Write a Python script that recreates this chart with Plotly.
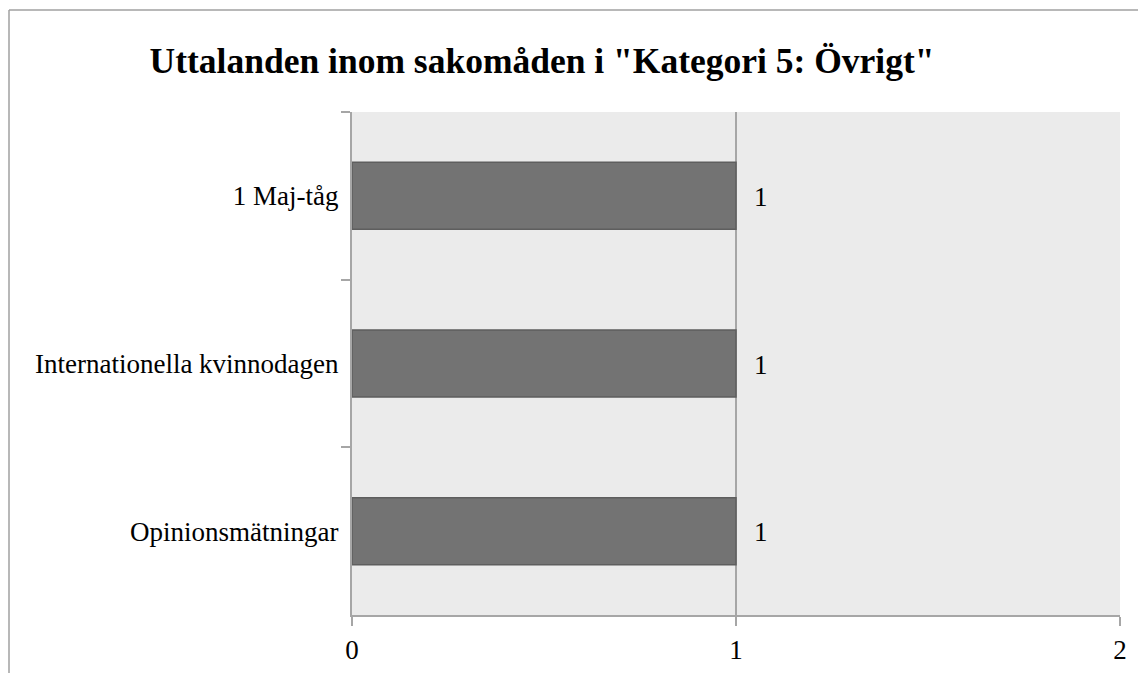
import plotly.graph_objects as go

categories = ["1 Maj-tåg", "Internationella kvinnodagen", "Opinionsmätningar"]
values = [1, 1, 1]
x_ticks = [0, 1, 2]
title = 'Uttalanden inom sakomåden i "Kategori 5: Övrigt"'

FONT = "Liberation Serif, Times New Roman, serif"
OFF = 8  # page body margin
W, H = 1146 - OFF, 673 - OFF
L, R, T, B = 352 - OFF, 26, 112 - OFF, 58
PW, PH = W - L - R, H - T - B


def px_x(p):
    return (p - OFF - L) / PW


def px_y(p):
    return (H - B - (p - OFF)) / PH


fig = go.Figure()
fig.add_trace(go.Bar(
    x=values, y=categories, orientation="h", width=0.4,
    marker=dict(color="#737373", line=dict(color="#5e5e5e", width=1.5)),
    hoverinfo="x+y", showlegend=False,
))

for c, v in zip(categories, values):
    fig.add_annotation(x=v, y=c, text=str(v), showarrow=False,
                       xanchor="left", xshift=16, yshift=-1,
                       font=dict(family=FONT, size=27, color="#000"))

# outer chart frame (left and top edges)
fig.add_shape(type="line", xref="paper", yref="paper",
              x0=px_x(9), x1=px_x(1200), y0=px_y(10), y1=px_y(10),
              line=dict(color="#a0a0a0", width=1.5))
fig.add_shape(type="line", xref="paper", yref="paper",
              x0=px_x(9), x1=px_x(9), y0=px_y(10), y1=px_y(720),
              line=dict(color="#a0a0a0", width=1.5))

fig.update_layout(
    width=W, height=H, autosize=False,
    margin=dict(l=L, r=R, t=T, b=B, pad=0),
    paper_bgcolor="white", plot_bgcolor="#ebebeb",
    title=dict(text=f"<b>{title}</b>", x=(542 - OFF) / W, xanchor="center",
               y=1 - (61 - OFF) / H, yanchor="middle",
               font=dict(family=FONT, size=35.5, color="#000")),
    bargap=0.6,
    font=dict(family=FONT, size=27, color="#000"),
)
fig.update_xaxes(range=[0, 2], tickvals=x_ticks, ticktext=[str(t) for t in x_ticks],
                 showgrid=True, gridcolor="#a6a6a6", gridwidth=2,
                 showline=True, linecolor="#a6a6a6", linewidth=2,
                 ticks="outside", ticklen=9, tickcolor="#a6a6a6", tickwidth=2,
                 zeroline=False, tickfont=dict(family=FONT, size=27), ticklabelstandoff=1,
                 automargin=False)
fig.update_yaxes(categoryorder="array", categoryarray=categories, autorange="reversed",
                 showgrid=False, showline=True, linecolor="#a6a6a6", linewidth=2,
                 ticks="outside", ticklen=9, tickcolor="#a6a6a6", tickwidth=2,
                 tickson="boundaries", tickfont=dict(family=FONT, size=27),
                 ticklabelstandoff=6, automargin=False)

fig.write_html("out.html")
